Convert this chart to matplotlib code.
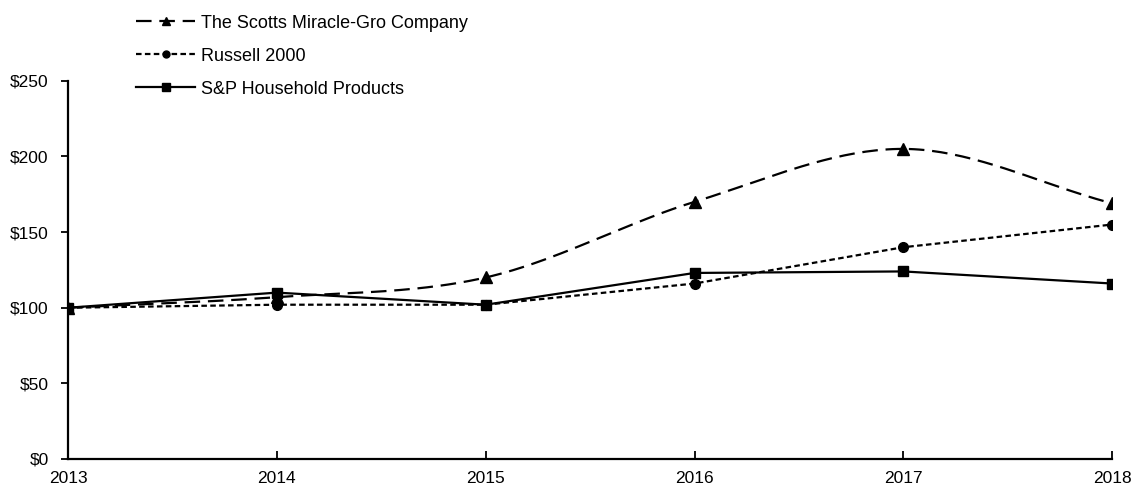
import numpy as np
import matplotlib
matplotlib.use("Agg")
import matplotlib.pyplot as plt
from matplotlib.lines import Line2D

plt.rcParams['font.family'] = ['Liberation Sans', 'DejaVu Sans']

years = [2013, 2014, 2015, 2016, 2017, 2018]
scotts = [100, 107, 120, 170, 205, 169]
russell = [100, 102, 102, 116, 140, 155]
sp_household = [100, 110, 102, 123, 124, 116]
y_ticks = [0, 50, 100, 150, 200, 250]
y_labels = ['$0', '$50', '$100', '$150', '$200', '$250']


def smooth(xs, ys, n=40):
    # Catmull-Rom style smoothing (as in spreadsheet "smoothed line")
    xs = np.asarray(xs, float); ys = np.asarray(ys, float)
    px = np.concatenate([[2 * xs[0] - xs[1]], xs, [2 * xs[-1] - xs[-2]]])
    py = np.concatenate([[2 * ys[0] - ys[1]], ys, [2 * ys[-1] - ys[-2]]])
    ox, oy = [], []
    for i in range(1, len(px) - 2):
        p0, p1, p2, p3 = [np.array([px[j], py[j]]) for j in (i - 1, i, i + 1, i + 2)]
        c1 = p1 + (p2 - p0) / 6
        c2 = p2 - (p3 - p1) / 6
        t = np.linspace(0, 1, n)[:, None]
        b = (1 - t) ** 3 * p1 + 3 * (1 - t) ** 2 * t * c1 + 3 * (1 - t) * t ** 2 * c2 + t ** 3 * p2
        ox.extend(b[:, 0]); oy.extend(b[:, 1])
    return ox, oy


LW = 1.6
SC_DASH = (7, 3.5)
RU_DASH = (2.5, 1.5)

fig = plt.figure(figsize=(11.38, 4.87), dpi=100)
ax = fig.add_axes([0.0598, 0.0575, 0.9175, 0.7765])

sx, sy = smooth(years, scotts)
ax.plot(sx, sy, color='black', lw=LW, dashes=SC_DASH, zorder=3)
ax.plot(years, scotts, linestyle='none', marker='^', ms=8, color='black', zorder=4)
ax.plot(years, russell, color='black', lw=LW, dashes=RU_DASH, marker='o', ms=7, zorder=3)
ax.plot(years, sp_household, color='black', lw=LW, marker='s', ms=7.5, zorder=3)

ax.set_xlim(2013, 2018)
ax.set_ylim(0, 250)
ax.set_yticks(y_ticks)
ax.set_yticklabels(y_labels)
ax.set_xticks(years)
ax.set_xticklabels([str(y) for y in years])
for s in ['top', 'right']:
    ax.spines[s].set_visible(False)
for s in ['left', 'bottom']:
    ax.spines[s].set_linewidth(1.6)
ax.tick_params(axis='x', direction='in', length=6, width=1.3, labelsize=12.5, pad=9)
ax.tick_params(axis='y', direction='out', length=5, width=1.3, labelsize=12.5, pad=9)

handles = [
    Line2D([], [], color='black', lw=LW, dashes=SC_DASH, marker='^', ms=6),
    Line2D([], [], color='black', lw=LW, dashes=RU_DASH, marker='o', ms=5),
    Line2D([], [], color='black', lw=LW, marker='s', ms=6),
]
labels = ['The Scotts Miracle-Gro Company', 'Russell 2000', 'S&P Household Products']
fig.legend(handles, labels, loc='upper left', bbox_to_anchor=(0.105, 1.003), frameon=False,
           fontsize=13, handlelength=3.3, handletextpad=0.3, labelspacing=0.88)

fig.savefig('out.png', dpi=100)
